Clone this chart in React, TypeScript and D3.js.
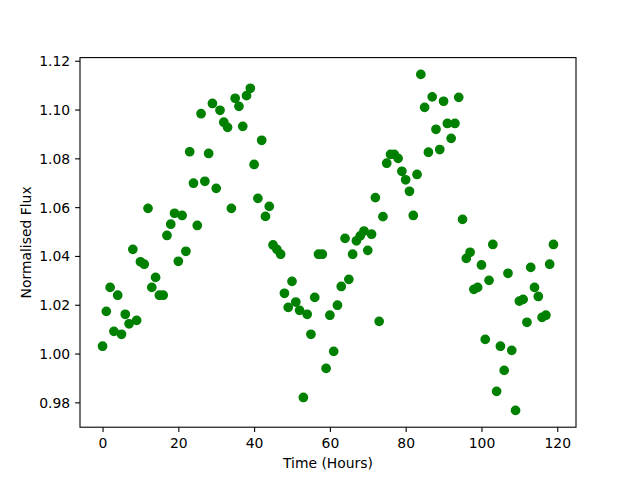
import React, { useEffect, useRef } from "react";
import * as d3 from "d3";

// observation time in hours
const hours = [
  0, 1, 2, 3, 4, 5, 6, 7, 8, 9, 10, 11, 12, 13, 14, 15, 16, 17, 18, 19,
  20, 21, 22, 23, 24, 25, 26, 27, 28, 29, 30, 31, 32, 33, 34, 35, 36, 37, 38, 39,
  40, 41, 42, 43, 44, 45, 46, 47, 48, 49, 50, 51, 52, 53, 54, 55, 56, 57, 58, 59,
  60, 61, 62, 63, 64, 65, 66, 67, 68, 69, 70, 71, 72, 73, 74, 75, 76, 77, 78, 79,
  80, 81, 82, 83, 84, 85, 86, 87, 88, 89, 90, 91, 92, 93, 94, 95, 96, 97, 98, 99,
  100, 101, 102, 103, 104, 105, 106, 107, 108, 109, 110, 111, 112, 113, 114, 115, 116, 117, 118, 119,
];

// normalised flux per hour
const flux = [
  1.003, 1.0173, 1.0271, 1.0091, 1.0239, 1.0079, 1.0161, 1.0122, 1.0427, 1.0136,
  1.0376, 1.0366, 1.0595, 1.0271, 1.0312, 1.0239, 1.0239, 1.0484, 1.053, 1.0575,
  1.0378, 1.0566, 1.0419, 1.0827, 1.0698, 1.0525, 1.0983, 1.0706, 1.082, 1.1025,
  1.0677, 1.0997, 1.0948, 1.0927, 1.0595, 1.1046, 1.1013, 1.0931, 1.1057, 1.1087,
  1.0775, 1.0636, 1.0874, 1.0562, 1.0603, 1.0445, 1.0427, 1.0407, 1.0247, 1.0189,
  1.0296, 1.0211, 1.0177, 0.982, 1.0161, 1.0079, 1.023, 1.0407, 1.0407, 0.9939,
  1.0157, 1.0009, 1.0198, 1.0275, 1.0472, 1.0304, 1.0407, 1.0462, 1.0482, 1.0502,
  1.0423, 1.0489, 1.0639, 1.0132, 1.0561, 1.078, 1.0816, 1.0816, 1.08, 1.0747,
  1.0712, 1.0665, 1.0566, 1.0734, 1.1144, 1.1009, 1.0825, 1.1052, 1.0919, 1.0836,
  1.1034, 1.0943, 1.0882, 1.0943, 1.105, 1.055, 1.039, 1.0415, 1.0263, 1.0271,
  1.0363, 1.0058, 1.03, 1.0447, 0.9845, 1.003, 0.9931, 1.0329, 1.0013, 0.9767,
  1.0215, 1.0222, 1.0128, 1.0353, 1.0271, 1.0234, 1.0148, 1.0157, 1.0366, 1.0447,
];

const xTicks = [0, 20, 40, 60, 80, 100, 120];
const yTicks = [0.98, 1.0, 1.02, 1.04, 1.06, 1.08, 1.1, 1.12];

const FONT = "DejaVu Sans, sans-serif";

const App: React.FC = () => {
  const ref = useRef<SVGSVGElement>(null);

  useEffect(() => {
    if (!ref.current) return;
    const svg = d3.select(ref.current);
    svg.selectAll("*").remove();

    const W = 640;
    const H = 480;
    const left = 80;
    const right = 576;
    const top = 57.6;
    const bottom = 427.2;

    const data = hours.map((h, i) => ({ t: h, f: flux[i] }));

    // matplotlib style 5% margins
    const [x0, x1] = d3.extent(hours) as [number, number];
    const [y0, y1] = d3.extent(flux) as [number, number];
    const xm = (x1 - x0) * 0.05;
    const ym = (y1 - y0) * 0.05;

    const x = d3.scaleLinear().domain([x0 - xm, x1 + xm]).range([left, right]);
    const y = d3.scaleLinear().domain([y0 - ym, y1 + ym]).range([bottom, top]);

    svg.attr("width", W).attr("height", H);
    svg.append("rect").attr("width", W).attr("height", H).attr("fill", "#fff");

    // X axis
    const gx = svg
      .append("g")
      .attr("transform", `translate(0,${bottom})`)
      .call(
        d3
          .axisBottom(x)
          .tickValues(xTicks)
          .tickSize(4.9)
          .tickSizeOuter(0)
          .tickFormat((d) => d3.format("d")(d as number))
      );
    gx.select(".domain").remove();
    gx.selectAll("line").attr("stroke", "#000").attr("stroke-width", 1.1);
    gx.selectAll("text")
      .attr("y", 20.9)
      .attr("dy", null)
      .attr("fill", "#000")
      .style("font-family", FONT)
      .style("font-size", "13.9px");

    // Y axis
    const gy = svg
      .append("g")
      .attr("transform", `translate(${left},0)`)
      .call(
        d3
          .axisLeft(y)
          .tickValues(yTicks)
          .tickSize(4.9)
          .tickSizeOuter(0)
          .tickPadding(4.9)
          .tickFormat((d) => d3.format(".2f")(d as number))
      );
    gy.select(".domain").remove();
    gy.selectAll("line").attr("stroke", "#000").attr("stroke-width", 1.1);
    gy.selectAll("text")
      .attr("dy", "0.36em")
      .attr("fill", "#000")
      .style("font-family", FONT)
      .style("font-size", "13.9px");

    // points
    svg
      .append("g")
      .selectAll("circle")
      .data(data)
      .enter()
      .append("circle")
      .attr("cx", (d) => x(d.t))
      .attr("cy", (d) => y(d.f))
      .attr("r", 4.17)
      .attr("fill", "#008000")
      .attr("stroke", "#008000")
      .attr("stroke-width", 1.39);

    // frame
    svg
      .append("rect")
      .attr("x", left)
      .attr("y", top)
      .attr("width", right - left)
      .attr("height", bottom - top)
      .attr("fill", "none")
      .attr("stroke", "#000")
      .attr("stroke-width", 1.1);

    // axis labels
    svg
      .append("text")
      .attr("x", (left + right) / 2)
      .attr("y", 467.5)
      .attr("text-anchor", "middle")
      .style("font-family", FONT)
      .style("font-size", "13.9px")
      .text("Time (Hours)");

    svg
      .append("text")
      .attr("transform", `translate(30.5,${(top + bottom) / 2}) rotate(-90)`)
      .attr("text-anchor", "middle")
      .style("font-family", FONT)
      .style("font-size", "13.9px")
      .text("Normalised Flux");
  }, []);

  return (
    <svg
      ref={ref}
      style={{ position: "absolute", left: 0, top: 0, display: "block" }}
    />
  );
};

export default App;
